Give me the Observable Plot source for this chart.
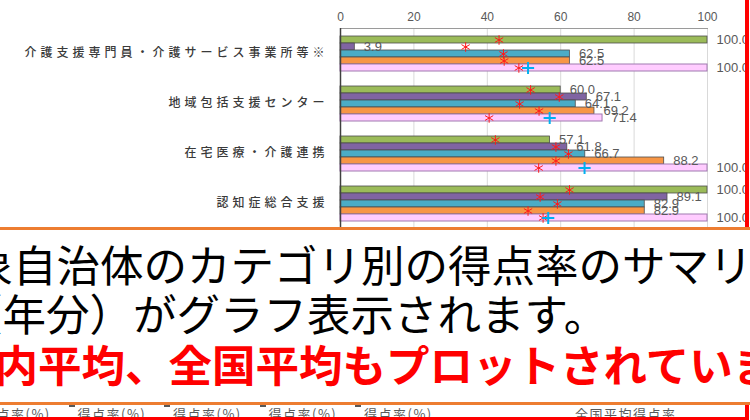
<!DOCTYPE html>
<html><head><meta charset="utf-8">
<script src="https://cdn.jsdelivr.net/npm/d3@7"></script>
<script src="https://cdn.jsdelivr.net/npm/@observablehq/plot@0.6"></script>
<style>
html,body{margin:0;padding:0;background:#fff;}
#wrap{position:relative;width:750px;height:420px;overflow:hidden;background:#fff;}
#chart{position:absolute;left:0;top:0;}
g[aria-label="fy-axis tick label"] text{letter-spacing:4px;}
.redv{position:absolute;left:745px;top:0;width:4px;height:420px;background:#ff0000;}
.box{position:absolute;left:0;top:227px;width:750px;height:178px;box-sizing:border-box;border-top:3px solid #ED7D31;border-bottom:3px solid #ED7D31;background:#fff;overflow:hidden;}
.line{position:absolute;white-space:nowrap;font-family:"Noto Sans CJK JP";font-size:43.5px;line-height:1;}
.redh{position:absolute;left:0;top:417px;width:749px;height:3px;background:#ff0000;}
.leg{position:absolute;top:406px;font-family:"Noto Sans CJK JP";font-size:13px;color:#595959;white-space:nowrap;line-height:16px;letter-spacing:1.5px;}
.key{position:absolute;top:401px;width:6px;height:6px;background:#595959;}
</style></head>
<body>
<div id="wrap">
  <div id="chart"></div>
  <div id="legend"></div>
  <div class="redv"></div>
  <div class="box">
    <div class="line" style="left:-74px;top:12px;color:#000;">対象自治体のカテゴリ別の得点率のサマリー</div>
    <div class="line" style="left:-41px;top:61px;color:#000;">（年分）がグラフ表示されます。</div>
    <div class="line" style="left:-49px;top:112px;color:#ff0000;font-weight:bold;">県内平均、全国平均もプロットされています。</div>
  </div>
  <div class="redh"></div>
</div>
<script>
// ---- data ----
const categories = ["介護支援専門員・介護サービス事業所等※", "地域包括支援センター", "在宅医療・介護連携", "認知症総合支援"];
const seriesKeys = ["A", "B", "C", "D", "E"];
const seriesLabels = ["得点率(%)", "得点率(%)", "得点率(%)", "得点率(%)", "得点率(%)"];
const nationalLabel = "全国平均得点率";
const valuesA = [100.0, 60.0, 57.1, 100.0];
const valuesB = [3.9, 67.1, 61.8, 89.1];
const valuesC = [62.5, 64.1, 66.7, 82.9];
const valuesD = [62.5, 69.2, 88.2, 82.9];
const valuesE = [100.0, 71.4, 100.0, 100.0];
const prefA = [43.2, 51.8, 42.2, 62.4];
const prefB = [34.1, 59.6, 58.7, 54.4];
const prefC = [44.4, 48.8, 62.1, 59.1];
const prefD = [44.6, 54.1, 58.7, 51.1];
const prefE = [48.6, 40.5, 54.0, 55.2];
const nationalAvg = [51.1, 57.0, 66.5, 56.6];
const xTicks = [0, 20, 40, 60, 80, 100];

// ---- styles ----
const seriesColors = ["#9BBB59", "#8064A2", "#4BACC6", "#F79646", "#FFCCFF"];

const valueSeries = [valuesA, valuesB, valuesC, valuesD, valuesE];
const prefSeries = [prefA, prefB, prefC, prefD, prefE];
const rows = [];
categories.forEach((c, ci) => seriesKeys.forEach((s, si) => rows.push({category: c, series: s, value: valueSeries[si][ci], pref: prefSeries[si][ci]})));
const natRows = categories.map((c, ci) => ({category: c, series: seriesKeys[4], nat: nationalAvg[ci]}));
const last = seriesKeys[seriesKeys.length - 1];

const chart = Plot.plot({
  width: 750, height: 420,
  marginLeft: 340, marginRight: 43, marginTop: 28, marginBottom: 192,
  style: {fontFamily: "'Liberation Sans', Arial, sans-serif", background: "#fff", overflow: "visible"},
  x: {domain: [0, 100]},
  y: {domain: seriesKeys, axis: null, paddingInner: 0, paddingOuter: 0.7},
  fy: {domain: categories, padding: 0},
  color: {domain: seriesKeys, range: seriesColors},
  marks: [
    Plot.gridX({ticks: xTicks.slice(1), stroke: "#d9d9d9", strokeOpacity: 1}),
    Plot.frame({anchor: "top", facetAnchor: "top", stroke: "#9a9a9a"}),
    Plot.barX(rows, {filter: d => d.series !== last, x: "value", y: "series", fy: "category", fill: "series", stroke: "#4d4d4d", strokeWidth: 0.8}),
    Plot.barX(rows, {filter: d => d.series === last, x: "value", y: "series", fy: "category", fill: "series", stroke: "#a07ab0", strokeWidth: 1}),
    Plot.ruleX([0], {stroke: "#404040", strokeWidth: 1.5}),
    Plot.text(rows, {x: "value", y: "series", fy: "category", text: d => d.value.toFixed(1), textAnchor: "start", dx: 9, fill: "#595959", fontSize: 13}),
    Plot.dot(rows, {x: "pref", y: "series", fy: "category", symbol: "asterisk", stroke: "#ff1a1a", r: 4.5, strokeWidth: 1}),
    Plot.dot(natRows, {x: "nat", y: "series", fy: "category", symbol: "plus", stroke: "#00B0F0", r: 4, strokeWidth: 2}),
    Plot.axisX({anchor: "top", ticks: xTicks, tickSize: 0, tickPadding: 8, fill: "#595959", fontSize: 12, label: null}),
    Plot.axisFy({anchor: "left", tickSize: 0, tickPadding: 12, fill: "#3a3a3a", fontSize: 12, fontWeight: 500, fontFamily: "Noto Sans CJK JP", label: null})
  ]
});
document.getElementById("chart").appendChild(chart);

// ---- legend strip (mostly hidden under the text box) ----
const legend = document.getElementById("legend");
seriesLabels.forEach((lab, i) => {
  const k = document.createElement("div");
  k.className = "key";
  k.style.left = (-27 + 95.5 * i) + "px";
  legend.appendChild(k);
  const t = document.createElement("div");
  t.className = "leg";
  t.style.left = (-18 + 95.5 * i) + "px";
  t.textContent = lab;
  legend.appendChild(t);
});
const nt = document.createElement("div");
nt.className = "leg";
nt.style.left = "575px";
nt.textContent = nationalLabel;
legend.appendChild(nt);
</script>
</body></html>
